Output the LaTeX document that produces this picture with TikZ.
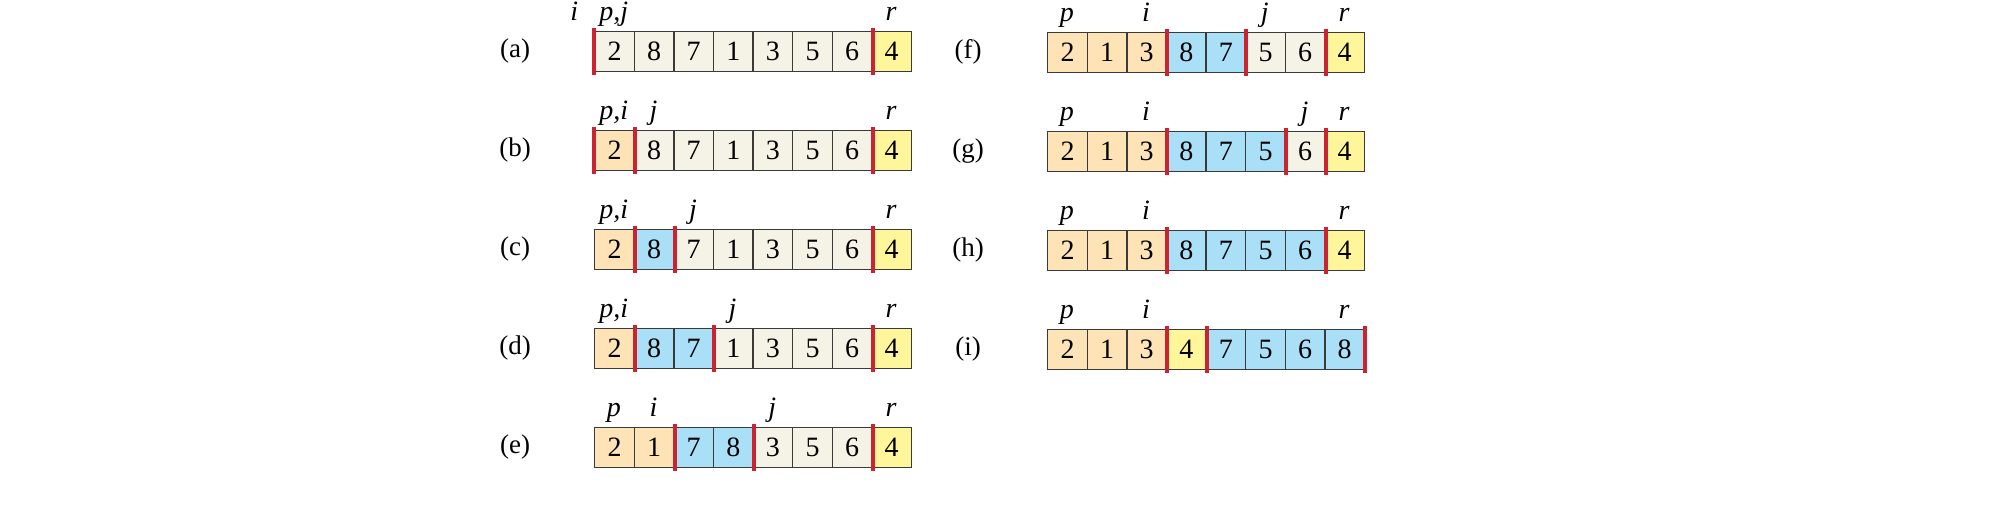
\documentclass[tikz,border=0pt]{standalone}
\usepackage{fontspec}
\setmainfont{Liberation Serif}
\definecolor{cream}{HTML}{F5F2E6}
\definecolor{orng}{HTML}{FDE3B6}
\definecolor{blu}{HTML}{A9DFF7}
\definecolor{yel}{HTML}{FFF69C}
\definecolor{redbar}{HTML}{CB2430}
\definecolor{cellline}{HTML}{3A3A3A}
\tikzset{
  cellbox/.style={draw=cellline, line width=0.7pt, minimum width=19.8pt, minimum height=20pt,
    inner sep=0pt, anchor=north west, font=\fontsize{14}{16}\selectfont},
  tagtext/.style={inner sep=0pt, anchor=center, font=\fontsize{13.5}{16}\selectfont},
  idxtext/.style={inner sep=0pt, anchor=base, font=\fontsize{14}{16}\selectfont\itshape},
  redline/.style={draw=redbar, line width=2pt},
}
% #1 name, #2 x0, #3 top, #4 tag, #5 values/colours, #6 bars cell/side, #7 labels cell/text
\newcommand\arrayrow[7]{%
  \node[tagtext] (#1tag) at (#2-79,#3+20) {(#4)};
  \foreach \v/\c [count=\k] in {#5} {
    \node[cellbox, fill=\c] (#1\k) at ({#2+(\k-1)*39.6},#3) {\v};
  }
  \foreach \n/\a in {#6} {
    \draw[redline] ([yshift=1.3pt]#1\n.north \a) -- ([yshift=-1.3pt]#1\n.south \a);
  }
  \foreach \k/\t in {#7} {
    \node[idxtext] (#1L\k) at ({#2+(\k-0.5)*39.6},#3-11) {\t};
  }
}
\begin{document}
\begin{tikzpicture}[x=0.5pt,y=-0.5pt]
\useasboundingbox (0,0) rectangle (1999,509);
\arrayrow{a}{594}{31}{a}{2/cream,8/cream,7/cream,1/cream,3/cream,5/cream,6/cream,4/yel}{1/west,7/east}{0/i,1/{p,j},8/r}
\arrayrow{b}{594}{130}{b}{2/orng,8/cream,7/cream,1/cream,3/cream,5/cream,6/cream,4/yel}{1/west,1/east,7/east}{1/{p,i},2/j,8/r}
\arrayrow{c}{594}{229}{c}{2/orng,8/blu,7/cream,1/cream,3/cream,5/cream,6/cream,4/yel}{1/east,2/east,7/east}{1/{p,i},3/j,8/r}
\arrayrow{d}{594}{328}{d}{2/orng,8/blu,7/blu,1/cream,3/cream,5/cream,6/cream,4/yel}{1/east,3/east,7/east}{1/{p,i},4/j,8/r}
\arrayrow{e}{594}{427}{e}{2/orng,1/orng,7/blu,8/blu,3/cream,5/cream,6/cream,4/yel}{2/east,4/east,7/east}{1/p,2/i,5/j,8/r}
\arrayrow{f}{1047}{32}{f}{2/orng,1/orng,3/orng,8/blu,7/blu,5/cream,6/cream,4/yel}{3/east,5/east,7/east}{1/p,3/i,6/j,8/r}
\arrayrow{g}{1047}{131}{g}{2/orng,1/orng,3/orng,8/blu,7/blu,5/blu,6/cream,4/yel}{3/east,6/east,7/east}{1/p,3/i,7/j,8/r}
\arrayrow{h}{1047}{230}{h}{2/orng,1/orng,3/orng,8/blu,7/blu,5/blu,6/blu,4/yel}{3/east,7/east}{1/p,3/i,8/r}
\arrayrow{i}{1047}{329}{i}{2/orng,1/orng,3/orng,4/yel,7/blu,5/blu,6/blu,8/blu}{3/east,4/east,8/east}{1/p,3/i,8/r}
\end{tikzpicture}
\end{document}
